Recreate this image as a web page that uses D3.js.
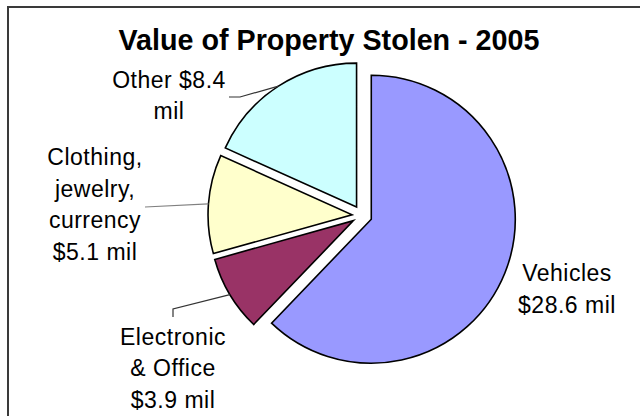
<!DOCTYPE html>
<html>
<head>
<meta charset="utf-8">
<script src="https://cdn.jsdelivr.net/npm/d3@7/dist/d3.min.js"></script>
<style>
  body { margin: 0; background: #fff; }
  svg text { font-family: "Liberation Sans", Arial, sans-serif; fill: #000; }
</style>
</head>
<body>
<div id="chart"></div>
<script>
// Datos
const categories = ['Vehicles', 'Electronic & Office', 'Clothing, jewelry, currency', 'Other'];
const values = [28.6, 3.9, 5.1, 8.4];
const colors = ['#9999ff', '#993366', '#ffffcc', '#ccffff'];
const title = 'Value of Property Stolen - 2005';

// Posición de etiquetas (relativa al centro de la tarta): centro del texto y codo de la línea guía
const labelLayout = [
    { x: 205, y: 73.5, leader: null },
    { x: -189, y: 152.5, leader: [[-189, 101.5], [-189, 93.5]] },
    { x: -267, y: -11, leader: [[-217, -8.5]] },
    { x: -193, y: -120, leader: [[-133, -118.5], [-122, -118.5]] }
];

const width = 640, height = 416;
const cx = 362, cy = 215.5, radius = 144, explode = 10;
const fontSize = 23, lineHeight = 31.5, wrapWidth = 120;

let svg = d3.select('#chart')
    .append('svg')
    .attr('width', width)
    .attr('height', height);

// Marco (solo se ven los bordes superior e izquierdo)
svg.append('path')
    .attr('d', 'M8,' + height + 'V7H' + width)
    .attr('fill', 'none')
    .attr('stroke', '#3a3a3a')
    .attr('stroke-width', 2);

svg.append('text')
    .attr('x', 329)
    .attr('y', 50)
    .attr('text-anchor', 'middle')
    .style('font-size', '28.7px')
    .style('font-weight', 'bold')
    .text(title);

let pie = d3.pie().sort(null).value(d => d);
let arcs = pie(values);

let arc = d3.arc().innerRadius(0).outerRadius(radius);
let edgeArc = d3.arc().innerRadius(radius).outerRadius(radius);

function offset(d) {
    let mid = (d.startAngle + d.endAngle) / 2;
    return [Math.sin(mid) * explode, -Math.cos(mid) * explode];
}

let chart = svg.append('g')
    .attr('transform', 'translate(' + cx + ',' + cy + ')');

chart.selectAll('.slice')
    .data(arcs)
    .enter()
    .append('path')
    .attr('class', 'slice')
    .attr('transform', d => 'translate(' + offset(d) + ')')
    .attr('d', arc)
    .attr('fill', (d, i) => colors[i])
    .attr('stroke', '#000')
    .attr('stroke-width', 1.6)
    .attr('stroke-linejoin', 'miter');

// Líneas guía
arcs.forEach(function(d, i) {
    let lay = labelLayout[i];
    if (!lay.leader) return;
    let o = offset(d);
    let e = edgeArc.centroid(d);
    let pts = lay.leader.concat([[e[0] + o[0], e[1] + o[1]]]);
    chart.append('path')
        .attr('d', d3.line()(pts))
        .attr('fill', 'none')
        .attr('stroke', i == 2 ? '#808080' : '#333')
        .attr('stroke-width', 1.2);
});

// Etiquetas con ajuste de líneas
let measure = svg.append('text')
    .style('font-size', fontSize + 'px')
    .style('letter-spacing', '0.5px');

function wrap(str) {
    let words = str.split(' '), lines = [], cur = '';
    words.forEach(function(w) {
        let test = cur ? cur + ' ' + w : w;
        measure.text(test);
        if (cur && measure.node().getComputedTextLength() > wrapWidth) {
            lines.push(cur);
            cur = w;
        } else {
            cur = test;
        }
    });
    lines.push(cur);
    return lines;
}

arcs.forEach(function(d, i) {
    let lay = labelLayout[i];
    let lines = wrap(categories[i] + ' $' + values[i].toFixed(1) + ' mil');
    let top = lay.y - (lines.length - 1) * lineHeight / 2;
    let t = chart.append('text')
        .attr('text-anchor', 'middle')
        .style('font-size', fontSize + 'px')
        .style('letter-spacing', '0.5px');
    lines.forEach(function(l, j) {
        t.append('tspan')
            .attr('x', lay.x)
            .attr('y', top + j * lineHeight + fontSize * 0.35)
            .text(l);
    });
});

measure.remove();
</script>
</body>
</html>
